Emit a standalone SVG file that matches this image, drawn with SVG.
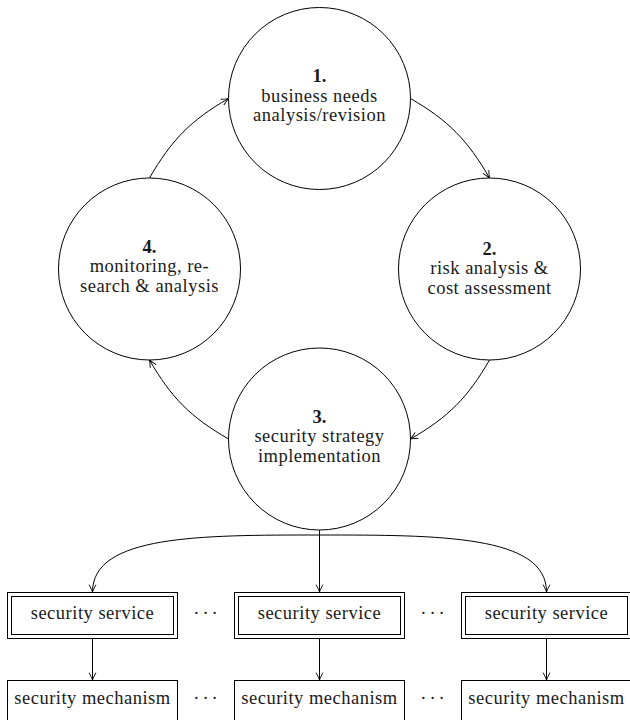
<svg xmlns="http://www.w3.org/2000/svg" width="630" height="720" viewBox="0 0 630 720">
<defs>
<marker id="arr" markerUnits="userSpaceOnUse" markerWidth="12" markerHeight="10" viewBox="-9 -5 10 10" refX="0" refY="0" orient="auto" overflow="visible">
<path d="M-7,-3.2 C-4,-1.6 -1.2,-0.5 0,0 C-1.2,0.5 -4,1.6 -7,3.2" fill="none" stroke="#000" stroke-width="0.9" stroke-linecap="round"/>
</marker>
</defs>
<style>
.n{fill:#fff;stroke:#000;stroke-width:1}
.e{fill:none;stroke:#000;stroke-width:1;marker-end:url(#arr)}
.t{font-family:"Liberation Serif","DejaVu Serif",serif;font-size:18.5px;letter-spacing:0.5px;fill:#1a1a1a;text-anchor:middle}
.b{font-weight:bold;letter-spacing:0}
.d{font-family:"Liberation Serif","DejaVu Serif",serif;font-size:18.5px;letter-spacing:3px;fill:#1a1a1a;text-anchor:middle}
</style>
<rect width="630" height="720" fill="#fff"/>
<g id="connectors">
<path class="e" d="M149.5,178 C171.5,140 190.5,120.5 228.5,98.5"/>
<path class="e" d="M410.5,98.5 C448.5,120.5 467.5,140 489.5,178"/>
<path class="e" d="M489.5,360 C467.5,398 448.5,417 410.5,439"/>
<path class="e" d="M228.5,439 C190.5,417 171.5,398 149.5,360"/>
<path class="e" d="M319.5,530 L319.5,592"/>
<path class="e" d="M319.5,535 C200,535 92.5,535 92.5,592"/>
<path class="e" d="M319.5,535 C439,535 546.5,535 546.5,592"/>
<path class="e" d="M92.5,639 L92.5,680"/>
<path class="e" d="M319.5,639 L319.5,680"/>
<path class="e" d="M546.5,639 L546.5,680"/>
</g>
<g id="n1">
<circle class="n" cx="319.5" cy="98.5" r="91"/>
<text class="t b" x="319.5" y="82">1.</text>
<text class="t" x="319.5" y="101.5">business needs</text>
<text class="t" x="319.5" y="121">analysis/revision</text>
</g>
<g id="n2">
<circle class="n" cx="489.5" cy="269" r="91"/>
<text class="t b" x="489.5" y="254.5">2.</text>
<text class="t" x="489.5" y="274">risk analysis &amp;</text>
<text class="t" x="489.5" y="293.5">cost assessment</text>
</g>
<g id="n3">
<circle class="n" cx="319.5" cy="439" r="91"/>
<text class="t b" x="319.5" y="422.5">3.</text>
<text class="t" x="319.5" y="442">security strategy</text>
<text class="t" x="319.5" y="461.5">implementation</text>
</g>
<g id="n4">
<circle class="n" cx="149.5" cy="269" r="91"/>
<text class="t b" x="149.5" y="252.5">4.</text>
<text class="t" x="149.5" y="272">monitoring, re-</text>
<text class="t" x="149.5" y="291.5">search &amp; analysis</text>
</g>
<g id="s1">
<rect class="n" x="7.5" y="592.5" width="170" height="46"/>
<rect class="n" x="11.5" y="596.5" width="162" height="38"/>
<text class="t" x="92.5" y="619">security service</text>
</g>
<g id="s2">
<rect class="n" x="234.5" y="592.5" width="170" height="46"/>
<rect class="n" x="238.5" y="596.5" width="162" height="38"/>
<text class="t" x="319.5" y="619">security service</text>
</g>
<g id="s3">
<rect class="n" x="461.5" y="592.5" width="170" height="46"/>
<rect class="n" x="465.5" y="596.5" width="162" height="38"/>
<text class="t" x="546.5" y="619">security service</text>
</g>
<g id="m1">
<rect class="n" x="7.5" y="680.5" width="170" height="41"/>
<text class="t" x="92.5" y="704">security mechanism</text>
</g>
<g id="m2">
<rect class="n" x="234.5" y="680.5" width="170" height="41"/>
<text class="t" x="319.5" y="704">security mechanism</text>
</g>
<g id="m3">
<rect class="n" x="461.5" y="680.5" width="170" height="41"/>
<text class="t" x="546.5" y="704">security mechanism</text>
</g>
<g id="dots">
<text class="d" x="207" y="619">···</text>
<text class="d" x="434" y="619">···</text>
<text class="d" x="207" y="704">···</text>
<text class="d" x="434" y="704">···</text>
</g>
</svg>
